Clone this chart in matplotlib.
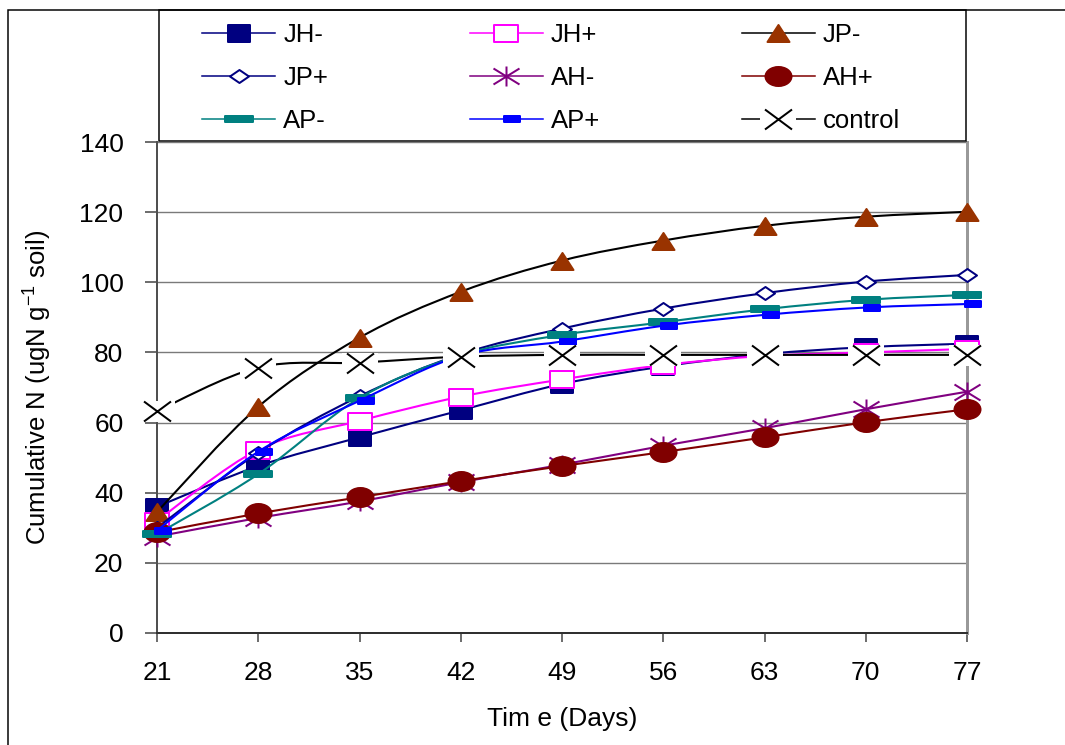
import numpy as np
import matplotlib
matplotlib.use("Agg")
import matplotlib.pyplot as plt
from matplotlib.path import Path
from matplotlib.patches import PathPatch, Rectangle
from matplotlib.lines import Line2D
from matplotlib.legend_handler import HandlerTuple

# ---------------- data ----------------
days = [21, 28, 35, 42, 49, 56, 63, 70, 77]
jh_minus = [36.0, 47.6, 55.8, 63.5, 71.0, 76.0, 79.5, 81.5, 82.5]
jh_plus = [32.0, 52.3, 60.5, 67.4, 72.3, 76.4, 79.0, 80.0, 81.0]
jp_minus = [34.5, 64.5, 84.2, 97.3, 106.2, 111.9, 116.1, 118.7, 120.1]
jp_plus = [30.0, 51.4, 67.5, 79.5, 86.8, 92.5, 96.9, 100.2, 102.1]
ah_minus = [27.5, 32.8, 37.5, 43.0, 48.0, 53.4, 58.4, 63.8, 68.8]
ah_plus = [28.7, 34.1, 38.7, 43.3, 47.6, 51.6, 55.8, 60.1, 63.8]
ap_minus = [28.2, 45.3, 67.0, 79.2, 85.0, 88.6, 92.3, 95.0, 96.4]
ap_plus = [29.2, 51.7, 66.2, 79.0, 83.1, 87.6, 90.7, 92.8, 93.8]
control = [63.3, 75.7, 77.1, 78.8, 79.3, 79.3, 79.3, 79.3, 79.3]

series_labels = ["JH-", "JH+", "JP-", "JP+", "AH-", "AH+", "AP-", "AP+", "control"]
y_ticks = [0, 20, 40, 60, 80, 100, 120, 140]
x_label = "Tim e (Days)"
y_label = "Cumulative N (ugN g$^{-1}$ soil)"

# ---------------- figure ----------------
W, H, DPI = 1065, 745, 100
PT = 72.0 / DPI  # points per pixel

plt.rcParams["font.family"] = ["Liberation Sans", "DejaVu Sans"]
plt.rcParams["mathtext.default"] = "regular"

fig = plt.figure(figsize=(W / DPI, H / DPI), dpi=DPI)
fig.patch.set_facecolor("white")

ax_l, ax_r, ax_t, ax_b = 157, 967, 142, 633
ax = fig.add_axes([ax_l / W, 1 - ax_b / H, (ax_r - ax_l) / W, (ax_b - ax_t) / H])


def px_marker(verts, codes=None):
    v = np.asarray(verts, float)
    r = np.abs(v).max()
    return Path(v, codes), 2 * r * PT


def rect_verts(x0, x1, hh):
    return [(x0, -hh), (x1, -hh), (x1, hh), (x0, hh), (x0, -hh)]


CLOSED5 = [Path.MOVETO, Path.LINETO, Path.LINETO, Path.LINETO, Path.CLOSEPOLY]

sq_small, ms_sq_small = px_marker(rect_verts(-11, 11, 8.5), CLOSED5)
sq_big, ms_sq_big = px_marker(rect_verts(-12, 12, 8.5), CLOSED5)
tri, ms_tri = px_marker([(-11, -8.5), (11, -8.5), (0, 8.5), (-11, -8.5)],
                        [Path.MOVETO, Path.LINETO, Path.LINETO, Path.CLOSEPOLY])
dia, ms_dia = px_marker([(-9.5, 0), (0, 6.5), (9.5, 0), (0, -6.5), (-9.5, 0)], CLOSED5)
star, ms_star = px_marker([(0, -10), (0, 10), (-13, -8), (13, 8), (-13, 8), (13, -8)],
                          [Path.MOVETO, Path.LINETO] * 3)
uc = Path.unit_circle()
ell, ms_ell = px_marker(uc.vertices * np.array([13, 9.5]), uc.codes)
bar_t, ms_bar_t = px_marker(rect_verts(-14, 14, 2.75), CLOSED5)
bar_b, ms_bar_b = px_marker(rect_verts(-2, 14, 2.75), CLOSED5)
xmk, ms_x = px_marker([(-13.5, -10), (13.5, 10), (-13.5, 10), (13.5, -10)],
                      [Path.MOVETO, Path.LINETO] * 2)
bgk, ms_bg = px_marker(rect_verts(-18, 18, 10.5), CLOSED5)

NAVY, MAG, BROWN, PURP = "#000080", "#FF00FF", "#993300", "#800080"
DRED, TEAL, BLUE = "#800000", "#008080", "#0000FF"
LW = 1.5
LEG_LW = 1.1
MEW = 2 * PT

styles = [
    dict(y=jh_minus, lc=NAVY, m=sq_small, ms=ms_sq_small, mfc=NAVY, mec=NAVY),
    dict(y=jh_plus, lc=MAG, m=sq_big, ms=ms_sq_big, mfc="white", mec=MAG),
    dict(y=jp_minus, lc="black", m=tri, ms=ms_tri, mfc=BROWN, mec=BROWN),
    dict(y=jp_plus, lc=NAVY, m=dia, ms=ms_dia, mfc="white", mec=NAVY),
    dict(y=ah_minus, lc=PURP, m=star, ms=ms_star, mfc="none", mec=PURP),
    dict(y=ah_plus, lc=DRED, m=ell, ms=ms_ell, mfc=DRED, mec=DRED),
    dict(y=ap_minus, lc=TEAL, m=bar_t, ms=ms_bar_t, mfc=TEAL, mec=TEAL),
    dict(y=ap_plus, lc=BLUE, m=bar_b, ms=ms_bar_b, mfc=BLUE, mec=BLUE),
]


def smooth_path(xs, ys):
    pts = np.column_stack([xs, ys]).astype(float)
    n = len(pts)
    verts = [pts[0]]
    codes = [Path.MOVETO]
    for i in range(n - 1):
        p0 = pts[i - 1] if i > 0 else pts[i]
        p1, p2 = pts[i], pts[i + 1]
        p3 = pts[i + 2] if i + 2 < n else pts[i + 1]
        verts += [p1 + (p2 - p0) / 6.0, p2 - (p3 - p1) / 6.0, p2]
        codes += [Path.CURVE4] * 3
    return Path(verts, codes)


handles = []
for i, s in enumerate(styles):
    z = 3 + 2 * i
    ax.add_patch(PathPatch(smooth_path(days, s["y"]), facecolor="none",
                           edgecolor=s["lc"], lw=LW, zorder=z,
                           transform=ax.transData, clip_on=False))
    ax.plot(days, s["y"], linestyle="none", marker=s["m"], ms=s["ms"],
            mfc=s["mfc"], mec=s["mec"], mew=MEW, zorder=z + 1, clip_on=False)
    handles.append(Line2D([], [], color=s["lc"], lw=LEG_LW, marker=s["m"], ms=s["ms"],
                          mfc=s["mfc"], mec=s["mec"], mew=MEW))

# control series: X markers with white background (gaps in lines)
zc = 3 + 2 * len(styles)
ax.add_patch(PathPatch(smooth_path(days, control), facecolor="none",
                       edgecolor="black", lw=LW, zorder=zc,
                       transform=ax.transData, clip_on=False))
ax.plot(days, control, linestyle="none", marker=bgk, ms=ms_bg, mfc="white",
        mec="white", mew=0, zorder=zc + 1, clip_on=False)
ax.plot(days, control, linestyle="none", marker=xmk, ms=ms_x, mfc="none",
        mec="black", mew=MEW, zorder=zc + 2, clip_on=False)
h_ctrl = (Line2D([], [], color="black", lw=LEG_LW, marker=bgk, ms=ms_bg, mfc="white",
                 mec="white", mew=0),
          Line2D([], [], linestyle="none", marker=xmk, ms=ms_x, mfc="none",
                 mec="black", mew=MEW))
handles.append(h_ctrl)

# ---------------- axes styling ----------------
ax.set_xlim(days[0], days[-1])
ax.set_ylim(y_ticks[0], y_ticks[-1])
ax.set_xticks(days)
ax.set_yticks(y_ticks)
ax.grid(axis="y", color="#7a7a7a", lw=1.0, zorder=1)
ax.set_axisbelow(True)
ax.spines["top"].set_visible(False)
ax.spines["left"].set_color("#505050")
ax.spines["left"].set_linewidth(2 * PT)
ax.spines["bottom"].set_color("#303030")
ax.spines["bottom"].set_linewidth(2 * PT)
ax.spines["right"].set_color("#999999")
ax.spines["right"].set_linewidth(3 * PT)
ax.tick_params(axis="y", direction="out", length=12 * PT, width=1.5 * PT,
               color="#404040", labelsize=19, pad=15.5)
ax.tick_params(axis="x", direction="out", length=9 * PT, width=1.5 * PT,
               color="#404040", labelsize=19, pad=14)

ax.set_xlabel(x_label, fontsize=19)
ax.xaxis.set_label_coords(0.5, -0.150)
ax.set_ylabel(y_label, fontsize=18.5)
ax.yaxis.set_label_coords(-0.127, 0.5)

# ---------------- frames ----------------
fig.patches.append(Rectangle((8 / W, -0.1), 1.2, 1.1 - 10 / H, transform=fig.transFigure,
                             fill=False, ec="black", lw=1.5 * PT, zorder=0))
fig.patches.append(Rectangle((159 / W, 1 - 141 / H), 807 / W, 131 / H,
                             transform=fig.transFigure, fill=False, ec="black",
                             lw=1.5 * PT, zorder=0))

# legend: row-wise order in 3 columns (matplotlib fills column-wise)
order = [0, 3, 6, 1, 4, 7, 2, 5, 8]
leg = fig.legend([handles[k] for k in order], [series_labels[k] for k in order],
                 loc="upper left", bbox_to_anchor=(202 / W, 1 - 23 / H),
                 bbox_transform=fig.transFigure, ncol=3, frameon=False,
                 fontsize=18.5, handlelength=2.85, handletextpad=0.32,
                 columnspacing=5.5, labelspacing=0.74, borderpad=0,
                 borderaxespad=0, numpoints=1,
                 handler_map={tuple: HandlerTuple(ndivide=1)})

fig.savefig("out.png", dpi=DPI)
